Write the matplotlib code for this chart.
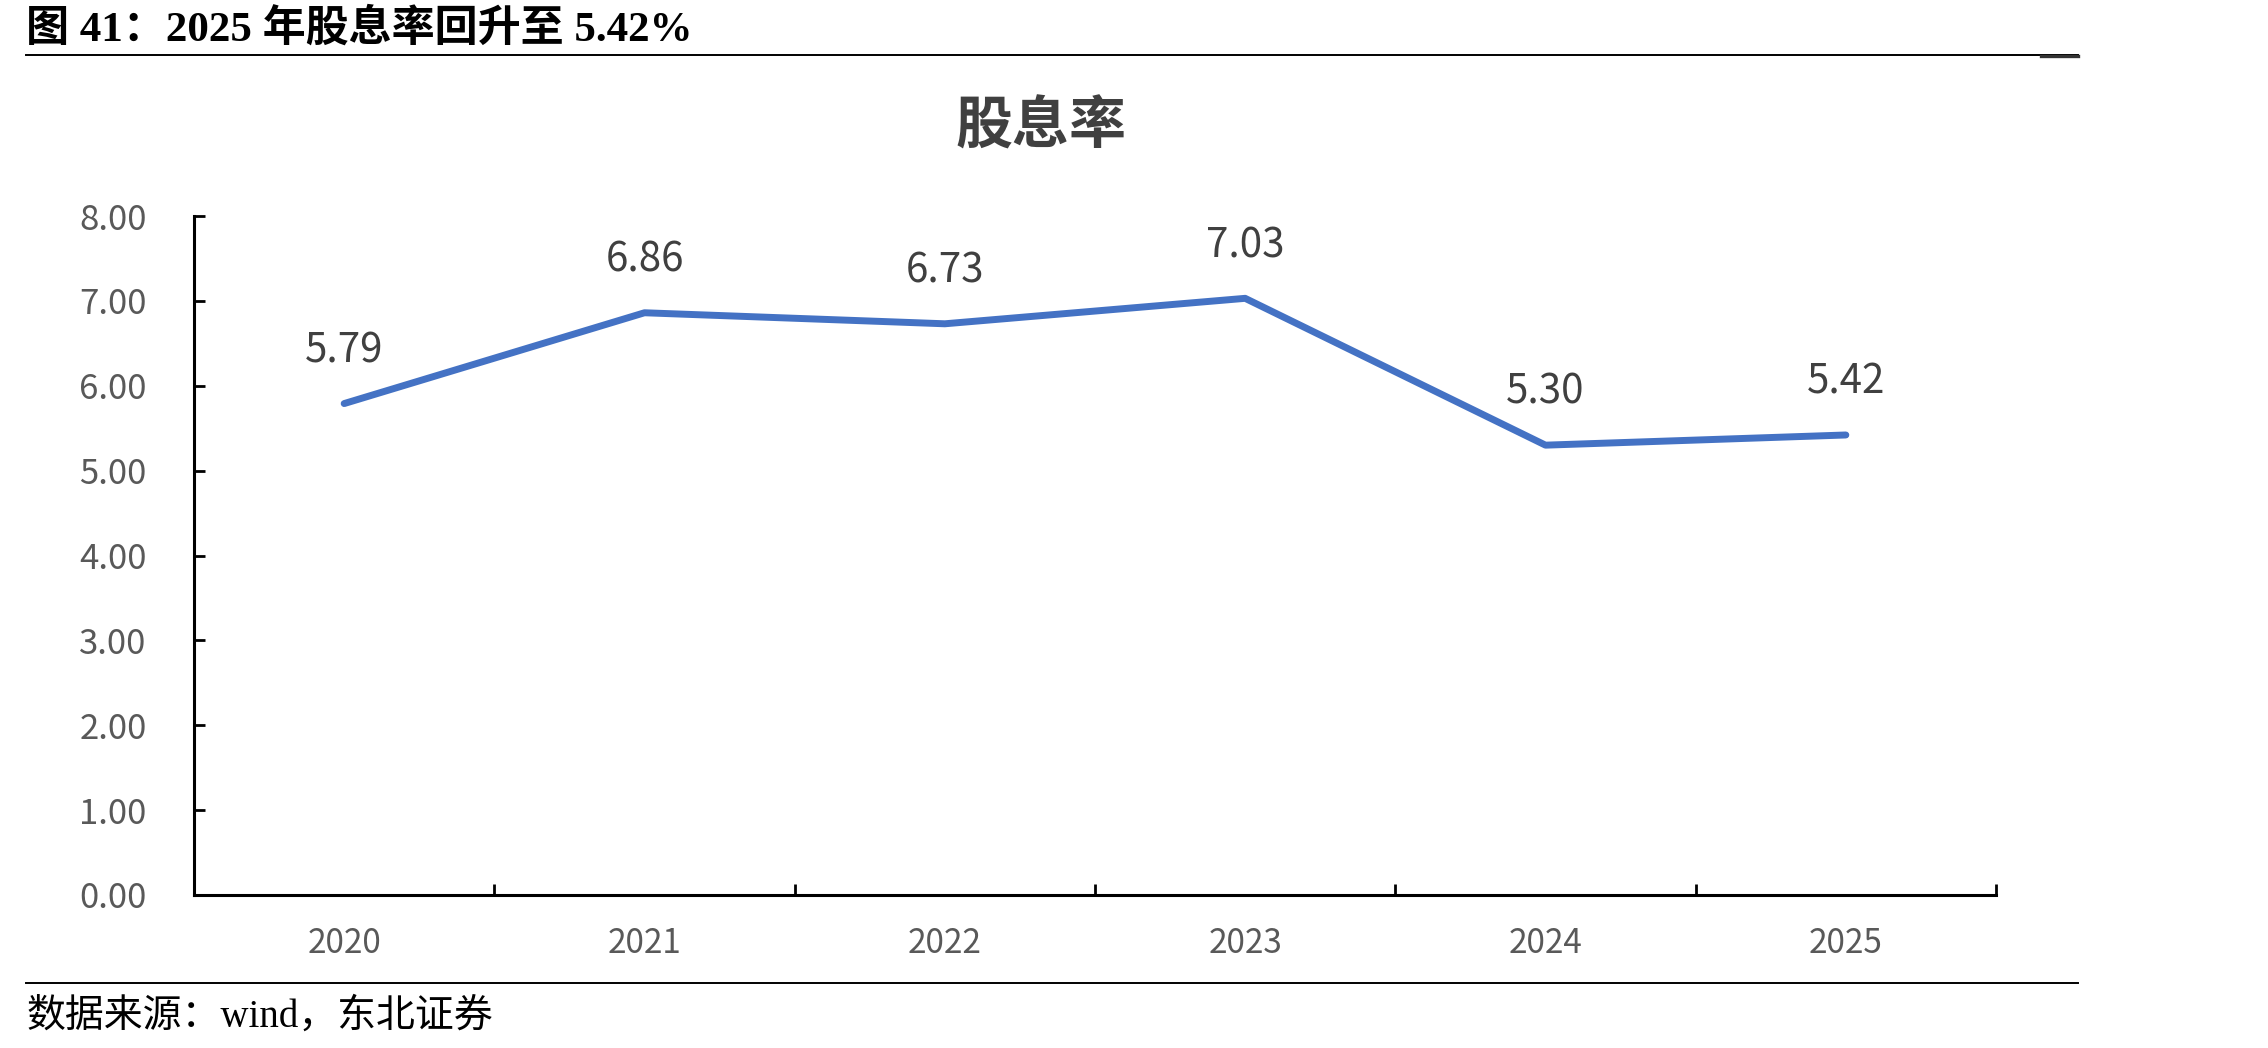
import matplotlib
matplotlib.use("Agg")
import matplotlib.pyplot as plt
from matplotlib.lines import Line2D

plt.rcParams['font.family'] = ['Noto Sans CJK SC', 'DejaVu Sans']

years = ["2020", "2021", "2022", "2023", "2024", "2025"]
dividend_yield = [5.79, 6.86, 6.73, 7.03, 5.30, 5.42]
y_ticks = [0, 1, 2, 3, 4, 5, 6, 7, 8]
y_tick_labels = ["0.00", "1.00", "2.00", "3.00", "4.00", "5.00", "6.00", "7.00", "8.00"]
chart_title = "股息率"
header = "图 41：2025 年股息率回升至 5.42%"
source = "数据来源：wind，东北证券"

W, H = 2268, 1048
fig = plt.figure(figsize=(W / 100, H / 100), dpi=100)
ax = fig.add_axes([194 / W, 1 - 895 / H, (1996 - 194) / W, (895 - 216) / H])

x = list(range(len(years)))
ax.plot(x, dividend_yield, color="#4472C4", lw=5, solid_capstyle="round", solid_joinstyle="round")
for xi, v in zip(x, dividend_yield):
    ax.annotate(f"{v:.2f}", (xi, v), xytext=(0, 38), textcoords="offset points",
                ha="center", va="center", fontsize=29, color="#404040")

ax.set_xlim(-0.5, len(years) - 0.5)
ax.set_ylim(0, 8)
ax.set_yticks(y_ticks)
ax.set_yticklabels(y_tick_labels)
ax.set_xticks(x)
ax.set_xticklabels(years)
ax.set_xticks([i + 0.5 for i in range(len(years))], minor=True)

for s in ["top", "right"]:
    ax.spines[s].set_visible(False)
for s in ["left", "bottom"]:
    ax.spines[s].set_linewidth(2.2)
    ax.spines[s].set_color("black")

ax.tick_params(axis="y", direction="in", length=8, width=2, pad=34, labelsize=25, labelcolor="#595959")
ax.tick_params(axis="x", which="major", length=0, pad=22, labelsize=24, labelcolor="#595959")
ax.tick_params(axis="x", which="minor", direction="in", length=8, width=2)

fig.text(1041 / W, 1 - 127 / H, chart_title, ha="center", va="center", fontsize=41,
         fontweight="bold", color="#404040")

fig.text(26 / W, 1 - 29 / H, header, ha="left", va="center", fontsize=31, fontweight="bold",
         family=["Liberation Serif", "Noto Sans CJK SC"], color="black")
fig.add_artist(Line2D([26 / W, 2078 / W], [1 - 55 / H, 1 - 55 / H], color="black", lw=1.4))
fig.add_artist(Line2D([2041 / W, 2078 / W], [1 - 56 / H, 1 - 56 / H], color="#333333", lw=2.4))

fig.add_artist(Line2D([26 / W, 2078 / W], [1 - 983 / H, 1 - 983 / H], color="black", lw=1.4))
fig.text(26 / W, 1 - 1017 / H, source, ha="left", va="center", fontsize=28,
         family=["Liberation Serif", "Noto Sans CJK SC"], color="black")

fig.savefig("out.png", dpi=100)
